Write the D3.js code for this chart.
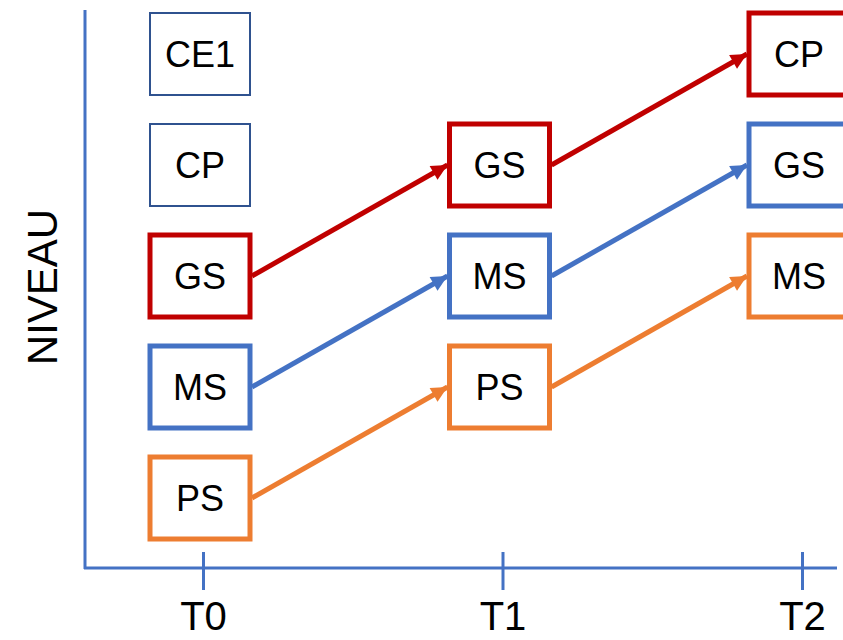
<!DOCTYPE html>
<html>
<head>
<meta charset="utf-8">
<script src="https://cdn.jsdelivr.net/npm/d3@7"></script>
<style>
  body { margin: 0; background: #fff; }
  svg { display: block; font-family: "Liberation Sans", Arial, sans-serif; }
</style>
</head>
<body>
<div id="chart"></div>
<script>
const width = 843;
const height = 640;

// time steps and level slots (bottom to top)
const times = ["T0", "T1", "T2"];
const levels = [0, 1, 2, 3, 4];

// cohorts: slot and label at each time step
const redSlots = [2, 3, 4];
const redLabels = ["GS", "GS", "CP"];
const blueSlots = [1, 2, 3];
const blueLabels = ["MS", "MS", "GS"];
const orangeSlots = [0, 1, 2];
const orangeLabels = ["PS", "PS", "MS"];

// upper grades at T0, not followed
const otherSlots = [3, 4];
const otherLabels = ["CP", "CE1"];

const axisColor = "#4472C4";
const cohorts = [
  { color: "#C00000", slots: redSlots, labels: redLabels },
  { color: "#4472C4", slots: blueSlots, labels: blueLabels },
  { color: "#ED7D31", slots: orangeSlots, labels: orangeLabels }
];

const boxW = 100;
const boxH = 82;

const x = d3.scalePoint().domain(times).range([203, 802]);
const y = d3.scaleLinear().domain([0, 4]).range([498, 54]);
const cx = (t) => x(t) - 3;

const svg = d3.create("svg")
  .attr("width", width)
  .attr("height", height)
  .attr("viewBox", [0, 0, width, height]);

// arrowheads
const defs = svg.append("defs");
cohorts.forEach((c, i) => {
  defs.append("marker")
    .attr("id", "arrow" + i)
    .attr("viewBox", "0 0 10 10")
    .attr("refX", 10)
    .attr("refY", 5)
    .attr("markerUnits", "userSpaceOnUse")
    .attr("markerWidth", 18)
    .attr("markerHeight", 16)
    .attr("orient", "auto")
    .append("path")
    .attr("d", "M0,0L10,5L0,10z")
    .attr("fill", c.color);
});

// axes
svg.append("line")
  .attr("x1", 85).attr("x2", 85)
  .attr("y1", 10).attr("y2", 569)
  .attr("stroke", axisColor)
  .attr("stroke-width", 3);

const xAxis = (g) =>
  g
    .attr("transform", "translate(0,568)")
    .call(d3.axisBottom(x).tickSizeInner(22).tickSizeOuter(0))
    .call((g) => g.select(".domain").remove())
    .call((g) => g.selectAll(".tick line")
      .attr("y1", -16)
      .attr("stroke", axisColor)
      .attr("stroke-width", 3))
    .call((g) => g.selectAll(".tick text")
      .attr("y", 62)
      .attr("dy", null)
      .attr("fill", "#000")
      .attr("font-size", 40)
      .attr("font-family", "Liberation Sans, Arial, sans-serif"));

svg.append("line")
  .attr("x1", 84).attr("x2", 837)
  .attr("y1", 568).attr("y2", 568)
  .attr("stroke", axisColor)
  .attr("stroke-width", 3);

svg.append("g").call(xAxis);

svg.append("text")
  .attr("transform", "translate(57,287) rotate(-90)")
  .attr("text-anchor", "middle")
  .attr("font-size", 42)
  .attr("fill", "#000")
  .text("NIVEAU");

// arrows between consecutive time steps
cohorts.forEach((c, ci) => {
  const segs = d3.range(times.length - 1).map((i) => [i, i + 1]);
  svg.append("g")
    .selectAll("line")
    .data(segs)
    .join("line")
    .attr("x1", ([a]) => cx(times[a]) + boxW / 2 + 2)
    .attr("y1", ([a]) => y(c.slots[a]))
    .attr("x2", ([, b]) => cx(times[b]) - boxW / 2 - 2)
    .attr("y2", ([, b]) => y(c.slots[b]))
    .attr("stroke", c.color)
    .attr("stroke-width", 5)
    .attr("marker-end", `url(#arrow${ci})`);
});

// thin boxes
const others = otherSlots.map((s, i) => ({ slot: s, label: otherLabels[i] }));
const og = svg.append("g")
  .selectAll("g")
  .data(others)
  .join("g")
  .attr("transform", (d) => `translate(${cx("T0")},${y(d.slot)})`);
og.append("rect")
  .attr("x", -boxW / 2).attr("y", -boxH / 2)
  .attr("width", boxW).attr("height", boxH)
  .attr("fill", "#fff")
  .attr("stroke", "#2F528F")
  .attr("stroke-width", 2);
og.append("text")
  .attr("text-anchor", "middle")
  .attr("dy", "0.36em")
  .attr("font-size", 36)
  .text((d) => d.label);

// cohort boxes
cohorts.forEach((c) => {
  const nodes = times.map((t, i) => ({ t, slot: c.slots[i], label: c.labels[i] }));
  const g = svg.append("g")
    .selectAll("g")
    .data(nodes)
    .join("g")
    .attr("transform", (d) => `translate(${cx(d.t)},${y(d.slot)})`);
  g.append("rect")
    .attr("x", -boxW / 2).attr("y", -boxH / 2)
    .attr("width", boxW).attr("height", boxH)
    .attr("fill", "#fff")
    .attr("stroke", c.color)
    .attr("stroke-width", 5);
  g.append("text")
    .attr("text-anchor", "middle")
    .attr("dy", "0.36em")
    .attr("font-size", 36)
    .text((d) => d.label);
});

document.getElementById("chart").appendChild(svg.node());
</script>
</body>
</html>
